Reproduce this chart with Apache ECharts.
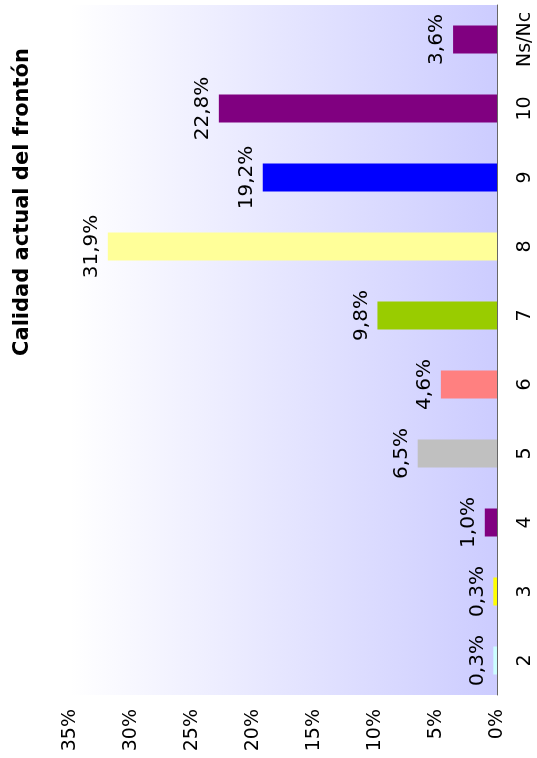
<!DOCTYPE html>
<html>
<head>
<meta charset="utf-8">
<script src="https://cdn.jsdelivr.net/npm/echarts@6/dist/echarts.min.js"></script>
<style>
html,body{margin:0;padding:0;background:#fff;}
#chart{width:537px;height:758px;}
</style>
</head>
<body>
<div id="chart"></div>
<script>
var titleText = 'Calidad actual del frontón';
var categories = ['2', '3', '4', '5', '6', '7', '8', '9', '10', 'Ns/Nc'];
var values = [0.3, 0.3, 1.0, 6.5, 4.6, 9.8, 31.9, 19.2, 22.8, 3.6];
var barColors = ['#ccffff', '#ffff00', '#800080', '#c0c0c0', '#ff8080', '#99cc00', '#ffff99', '#0000ff', '#800080', '#800080'];
var valueTicks = [0, 5, 10, 15, 20, 25, 30, 35];

var FONT = 'DejaVu Sans';
var chart = echarts.init(document.getElementById('chart'));
chart.setOption({
  animation: false,
  backgroundColor: '#ffffff',
  grid: {
    left: 70, right: 40, top: 5, bottom: 63,
    show: true,
    borderWidth: 0,
    backgroundColor: new echarts.graphic.LinearGradient(0, 0, 1, 0, [
      {offset: 0, color: '#ffffff'},
      {offset: 1, color: '#ccccff'}
    ])
  },
  graphic: [{
    type: 'text',
    x: 23, y: 202,
    rotation: Math.PI / 2,
    style: {
      text: titleText,
      font: 'bold 21px "DejaVu Sans"',
      fill: '#000',
      align: 'center',
      verticalAlign: 'middle'
    }
  }],
  xAxis: {
    type: 'value',
    inverse: true,
    min: valueTicks[0],
    max: valueTicks[valueTicks.length - 1],
    interval: 5,
    position: 'bottom',
    axisLine: {show: false},
    axisTick: {show: false},
    splitLine: {show: false},
    axisLabel: {
      rotate: 90,
      margin: 14,
      fontFamily: FONT,
      fontSize: 19,
      color: '#000',
      formatter: '{value}%'
    }
  },
  yAxis: {
    type: 'category',
    data: categories,
    position: 'right',
    axisLine: {show: true, lineStyle: {color: '#666666', width: 1}},
    axisTick: {show: false},
    splitLine: {show: false},
    axisLabel: {
      interval: 0,
      hideOverlap: false,
      rotate: 90,
      margin: 19,
      fontFamily: FONT,
      fontSize: 19,
      color: '#000'
    }
  },
  series: [{
    type: 'bar',
    barWidth: 28,
    data: values.map(function (v, i) {
      return {value: v, itemStyle: {color: barColors[i]}};
    }),
    label: {
      show: true,
      position: 'left',
      distance: 6,
      rotate: 90,
      align: 'center',
      verticalAlign: 'bottom',
      fontFamily: FONT,
      fontSize: 20,
      color: '#000',
      formatter: function (p) { return p.value.toFixed(1).replace('.', ',') + '%'; }
    }
  }]
});
</script>
</body>
</html>
